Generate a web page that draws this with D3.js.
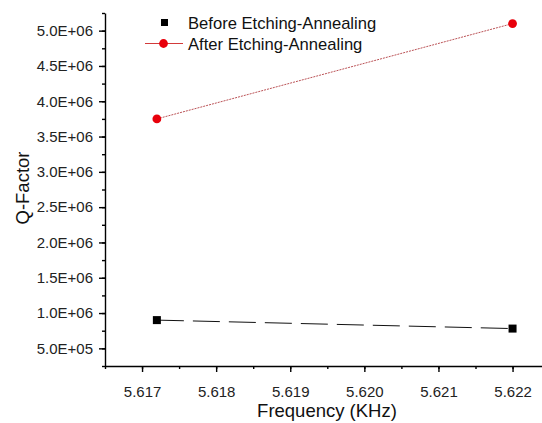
<!DOCTYPE html>
<html>
<head>
<meta charset="utf-8">
<script src="https://cdn.jsdelivr.net/npm/d3@7"></script>
<style>
    body { margin: 0; background: #fff; }
    svg { display: block; font-family: "Liberation Sans", Arial, sans-serif; }
    .axis path, .axis line { stroke: #000; stroke-width: 1.4; }
    .axis text { font-size: 15px; fill: #222; }
</style>
</head>
<body>
<div id="chart"></div>
<script>
// data
const frequency = [5.6172, 5.622];
const qBefore = [9.0e5, 7.8e5];
const qAfter = [3.75e6, 5.1e6];
const seriesNames = ["Before Etching-Annealing", "After Etching-Annealing"];
const xTicks = [5.617, 5.618, 5.619, 5.620, 5.621, 5.622];
const yTicks = [5e5, 1e6, 1.5e6, 2e6, 2.5e6, 3e6, 3.5e6, 4e6, 4.5e6, 5e6];

const width = 542, height = 423;

const x = d3.scaleLinear().domain([5.6165, 5.6225]).range([105, 549.6]);
const y = d3.scaleLinear().domain([2.5e5, 5.25e6]).range([366, 13]);

// 5.0E+06 style labels
const sciFormat = v => {
    const [m, e] = v.toExponential(1).split("e");
    const sign = e[0] === "-" ? "-" : "+";
    const exp = Math.abs(+e).toString().padStart(2, "0");
    return m + "E" + sign + exp;
};

const svg = d3.select("#chart").append("svg")
    .attr("width", width)
    .attr("height", height);

// minor ticks first so majors sit on top
const xMinor = d3.range(0, 13).map(i => 5.6165 + i * 0.0005);
const yMinor = d3.range(0, 21).map(i => 2.5e5 + i * 2.5e5);

svg.append("g")
    .attr("class", "axis")
    .attr("transform", "translate(0,366)")
    .call(d3.axisBottom(x).tickValues(xMinor).tickSize(3).tickFormat(""))
    .call(g => g.select(".domain").remove());

svg.append("g")
    .attr("class", "axis")
    .attr("transform", "translate(105,0)")
    .call(d3.axisLeft(y).tickValues(yMinor).tickSize(3).tickFormat(""))
    .call(g => g.select(".domain").remove());

const xAxis = svg.append("g")
    .attr("class", "axis")
    .attr("transform", "translate(0,366)")
    .call(d3.axisBottom(x).tickValues(xTicks).tickSize(6).tickSizeOuter(0).tickPadding(14)
        .tickFormat(d3.format(".3f")));

const yAxis = svg.append("g")
    .attr("class", "axis")
    .attr("transform", "translate(105,0)")
    .call(d3.axisLeft(y).tickValues(yTicks).tickSize(6).tickSizeOuter(0).tickPadding(6)
        .tickFormat(sciFormat));

// axis titles
svg.append("text")
    .attr("x", 327)
    .attr("y", 417)
    .attr("text-anchor", "middle")
    .style("font-size", "18.5px")
    .style("fill", "#111")
    .text("Frequency (KHz)");

svg.append("text")
    .attr("transform", "translate(29,188) rotate(-90)")
    .attr("text-anchor", "middle")
    .style("font-size", "18.5px")
    .style("fill", "#111")
    .text("Q-Factor");

// series: before (black squares, dashed)
const before = frequency.map((f, i) => ({f, q: qBefore[i]}));
const after = frequency.map((f, i) => ({f, q: qAfter[i]}));

const line = d3.line().x(d => x(d.f)).y(d => y(d.q));

svg.append("path")
    .datum(before)
    .attr("d", line)
    .attr("fill", "none")
    .attr("stroke", "#111")
    .attr("stroke-width", 1)
    .attr("stroke-dasharray", "27,9");

svg.selectAll("rect.before")
    .data(before)
    .enter().append("rect")
    .attr("class", "before")
    .attr("x", d => x(d.f) - 4)
    .attr("y", d => y(d.q) - 4)
    .attr("width", 8)
    .attr("height", 8)
    .attr("fill", "#000");

svg.append("path")
    .datum(after)
    .attr("d", line)
    .attr("fill", "none")
    .attr("stroke", "#a8262b")
    .attr("stroke-width", 0.8)
    .attr("stroke-dasharray", "2,1");

svg.selectAll("circle.after")
    .data(after)
    .enter().append("circle")
    .attr("class", "after")
    .attr("cx", d => x(d.f))
    .attr("cy", d => y(d.q))
    .attr("r", 4.4)
    .attr("fill", "#e8000b");

// legend
const legend = svg.append("g");

legend.append("rect")
    .attr("x", 161).attr("y", 19)
    .attr("width", 7).attr("height", 7)
    .attr("fill", "#000");

legend.append("text")
    .attr("x", 188).attr("y", 28.5)
    .style("font-size", "16.6px")
    .style("fill", "#111")
    .text(seriesNames[0]);

legend.append("line")
    .attr("x1", 145).attr("x2", 183)
    .attr("y1", 43.5).attr("y2", 43.5)
    .attr("stroke", "#d23a3a")
    .attr("stroke-width", 1);

legend.append("circle")
    .attr("cx", 163.5).attr("cy", 43.5).attr("r", 4.4)
    .attr("fill", "#e8000b");

legend.append("text")
    .attr("x", 188).attr("y", 49.5)
    .style("font-size", "16.6px")
    .style("fill", "#111")
    .text(seriesNames[1]);
</script>
</body>
</html>
